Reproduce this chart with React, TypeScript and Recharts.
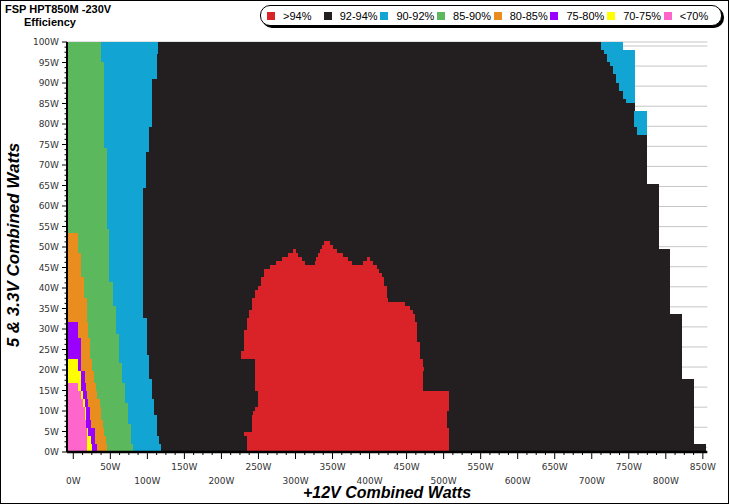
import React from 'react';
import { BarChart, Bar, Cell, LineChart, XAxis, YAxis, CartesianGrid } from 'recharts';

type Step = [number, number | null];

// +12V range covered by the map (W); the grid starts a little left of 0W
const LEFT_EDGE = -8.5;
const X_MAX = 856;
const Y_DOMAIN: [number, number] = [-1.17, 101];

// right edge (W on +12V) of each efficiency band, as [from row (5V&3.3V W), value]
const PINK_END: Step[] = [[0, 18.1], [6, 16.7], [8, 15.4], [11, 13.5], [13, 9.9], [15, 6.3], [17, null]];
const YELLOW_END: Step[] = [[0, 24.8], [2, 23.5], [4, 19.9], [6, 17.6], [11, 15.4], [13, 13.1], [15, 10.8], [17, 9.9], [20, 6.3], [23, null]];
const PURPLE_END: Step[] = [[0, 32.5], [2, 28.9], [6, 23.5], [8, 22.5], [11, 19.9], [13, 19], [15, 16.7], [17, 15.4], [20, 10.8], [23, 9.9], [28, 6.3], [32, null]];
const ORANGE_END: Step[] = [[0, 45.1], [2, 43.7], [4, 41], [6, 40.1], [8, 37.9], [11, 35.6], [13, 32.5], [15, 31.1], [17, 28], [20, 25.7], [23, 22.5], [28, 19.9], [32, 18.1], [38, 14.4], [43, 9.9], [49, 6.3], [54, null]];
const GREEN_END: Step[] = [[0, 81], [2, 77.9], [7, 74.3], [12, 69.8], [17, 65.3], [22, 61.7], [29, 57.7], [36, 53.5], [42, 48.6], [55, 45], [75, 41.5], [96, 37]];
const BLUE_END: Step[] = [[0, 118.4], [2, 116.2], [4, 112.6], [9, 109], [13, 105.8], [18, 102.7], [24, 99.1], [33, 94.5], [65, 98.2], [74, 102], [80, 106.3], [92, 112.6], [98, 114]];

// >94% zone, main body
const RED_START: Step[] = [[0, 234], [4, 230.5], [5, 241], [9, 242], [10, 245], [11, 250], [15, 245.3], [23, 226.4], [25, 230.5], [30, 234], [33, 237.7], [35, 240.9], [38, 245.3], [40, 249], [41, 253], [43, 257.5], [45, 265.6], [46, null]];
const RED_END: Step[] = [[0, 507.7], [6, 504.2], [10, 507.7], [15, 471.8], [20, 474], [21, 471.8], [23, 468.1], [27, 464.5], [32, 461.4], [34, 458.3], [35, 454.6], [36, 447.9], [37, 425.3], [38, 423.2], [41, 419.5], [43, 416.4], [44, 413], [45, 409.6], [46, null]];
// the three peaks on top of it
const RED_PEAKS: [number, [number, number][]][] = [
  [46, [[273.7, 312.9], [326.4, 375.9], [391.6, 405.1]]],
  [47, [[281.4, 308.4], [328, 371.3], [396, 401]]],
  [48, [[290.3, 303.8], [330.8, 364.6]]],
  [49, [[297, 301], [333, 355.6]]],
  [50, [[335.4, 351.1]]],
  [51, [[338.9, 346.6]]],
];

// end of the measured area, and the 90-92% strip at the top right
const BLACK_END: Step[] = [[0, 854], [2, 838], [18, 821.5], [34, 805.7], [50, 790.4], [66, 774.2], [78, 761.5], [80, 757], [84, 758.4], [86, 745.9], [87, 741.8], [89, 737.3], [91, 732.8], [93, 729.2], [95, 724.7], [96, 720.2], [98, 716.6], [99, 712.5]];
const RIGHT_BLUE_END: Step[] = [[0, null], [78, 774.2], [84, null], [86, 758.4], [99, 742]];

const Y_LABELS = [0, 5, 10, 15, 20, 25, 30, 35, 40, 45, 50, 55, 60, 65, 70, 75, 80, 85, 90, 95, 100];
const X_LABELS_UPPER = [50, 150, 250, 350, 450, 550, 650, 750, 850];
const X_LABELS_LOWER = [0, 100, 200, 300, 400, 500, 600, 700, 800];
const Y_TICKS = Array.from({ length: 81 }, (_, i) => i * 1.25);
const X_TICKS = Array.from({ length: 69 }, (_, i) => i * 12.5);
const ROWS = Array.from({ length: 101 }, (_, i) => 100 - i);

const C = {
  red: '#da2229', black: '#231f20', blue: '#12a5d3', green: '#5cb85c',
  orange: '#e98d1e', purple: '#9900ff', yellow: '#ffff00', pink: '#ff66cc',
};
const LEGEND = [
  { name: '>94%', color: C.red }, { name: '92-94%', color: C.black },
  { name: '90-92%', color: C.blue }, { name: '85-90%', color: C.green },
  { name: '80-85%', color: C.orange }, { name: '75-80%', color: C.purple },
  { name: '70-75%', color: C.yellow }, { name: '<70%', color: C.pink },
];

const at = (steps: Step[], r: number) => {
  let v: number | null = null;
  for (const [from, val] of steps) if (from <= r) v = val;
  return v;
};

function segmentsFor(r: number) {
  const segs = [{ w: LEFT_EDGE, c: 'none' }];
  let cur = LEFT_EDGE;
  const push = (end: number | null, c: string) => {
    if (end == null || end <= cur) return;
    segs.push({ w: end - cur, c });
    cur = end;
  };
  push(at(PINK_END, r), C.pink);
  push(at(YELLOW_END, r), C.yellow);
  push(at(PURPLE_END, r), C.purple);
  push(at(ORANGE_END, r), C.orange);
  push(at(GREEN_END, r), C.green);
  push(at(BLUE_END, r), C.blue);
  const peaks = RED_PEAKS.find(p => p[0] === r);
  const reds = r <= 45 ? [[at(RED_START, r)!, at(RED_END, r)!]] : peaks ? peaks[1] : [];
  for (const [s, e] of reds) { push(s, C.black); push(e, C.red); }
  push(at(BLACK_END, r), C.black);
  push(at(RIGHT_BLUE_END, r), C.blue);
  return segs;
}

const rowSegs = ROWS.map(segmentsFor);
const N = Math.max(...rowSegs.map(s => s.length));
const data = ROWS.map((row, j) => {
  const o: any = { row };
  for (let i = 0; i < N; i++) {
    const s = rowSegs[j][i];
    o['s' + i] = s ? s.w : 0;
    o['c' + i] = s ? s.c : 'none';
  }
  return o;
});

const tickFont = { fontFamily: 'DejaVu Sans, Verdana, sans-serif', fontSize: 9, fill: '#333' };
const MARGIN = { top: 42, right: 21.7, bottom: 0, left: 27 };
const PLOT_H = 504 - 42 - 52;
// just under the band height, so rows butt together without the recharts rounding gap
const ROW_SIZE = PLOT_H / ROWS.length - 0.0005;

const XTick = ({ x, y, payload }: any) => {
  const v = payload.value;
  const up = X_LABELS_UPPER.includes(v);
  const low = X_LABELS_LOWER.includes(v);
  return (
    <g>
      <line x1={x} x2={x} y1={y} y2={y + (up || low ? 7 : 3)} stroke="#000" />
      {(up || low) && (
        <text x={x} y={y + (up ? 17.5 : 31.5)} textAnchor="middle" {...tickFont}>{v}W</text>
      )}
    </g>
  );
};

const YTick = ({ x, y, payload }: any) => {
  const v = payload.value;
  const major = Y_LABELS.includes(v);
  return (
    <g>
      <line x1={x - (major ? 5 : 2.5)} x2={x} y1={y} y2={y} stroke="#000" />
      {major && (
        <text x={x - 8} y={y + 3.2} textAnchor="end" {...tickFont}>{v}W</text>
      )}
    </g>
  );
};

export default function App() {
  return (
    <div style={{ position: 'relative', width: 729, height: 504, background: '#fff', overflow: 'hidden' }}>
      <style>{`body{margin:0} .recharts-bar-rectangle path{shape-rendering:crispEdges}`}</style>

      {/* gridlines, kept behind the map */}
      <div style={{ position: 'absolute', left: 0, top: 0 }}>
        <LineChart width={729} height={504} data={data} margin={{ top: 42, right: 21.7, bottom: 52, left: 67 }}>
          <CartesianGrid vertical={false} stroke="#c6c6c6" />
          <XAxis type="number" dataKey="row" domain={[LEFT_EDGE, X_MAX]} allowDataOverflow hide />
          <YAxis type="number" domain={Y_DOMAIN} ticks={Y_LABELS} interval={0} allowDataOverflow hide />
        </LineChart>
      </div>

      <div style={{ position: 'absolute', left: 0, top: 0 }}>
        <BarChart
          width={729}
          height={504}
          data={data}
          layout="vertical"
          stackOffset="none"
          barCategoryGap={0}
          barGap={0}
          margin={MARGIN}
        >
          <XAxis
            type="number"
            domain={[LEFT_EDGE, X_MAX]}
            allowDataOverflow
            ticks={X_TICKS}
            interval={0}
            tick={(p: any) => <XTick {...p} />}
            tickLine={false}
            tickSize={0}
            tickMargin={0}
            height={52}
            axisLine={{ stroke: '#000', strokeWidth: 2.5 }}
          />
          <YAxis yAxisId="rows" type="category" dataKey="row" hide />
          <YAxis
            yAxisId={0}
            type="number"
            domain={Y_DOMAIN}
            reversed
            allowDataOverflow
            ticks={Y_TICKS}
            interval={0}
            tick={(p: any) => <YTick {...p} />}
            tickLine={false}
            tickSize={0}
            tickMargin={0}
            width={40}
            axisLine={{ stroke: '#000', strokeWidth: 2 }}
          />
          {Array.from({ length: N }, (_, i) => (
            <Bar key={i} dataKey={'s' + i} stackId="map" yAxisId="rows" barSize={ROW_SIZE} isAnimationActive={false}>
              {data.map((d, j) => <Cell key={j} fill={d['c' + i]} />)}
            </Bar>
          ))}
        </BarChart>
      </div>

      <div style={{ position: 'absolute', left: 5, top: 3, font: 'bold 11px "Liberation Sans", Arial, sans-serif', color: '#000' }}>
        FSP HPT850M -230V
      </div>
      <div style={{ position: 'absolute', left: 24, top: 16, font: 'bold 11px "Liberation Sans", Arial, sans-serif', color: '#000' }}>
        Efficiency
      </div>

      <div style={{
        position: 'absolute', left: 260, top: 5, width: 462, height: 21, boxSizing: 'border-box',
        border: '1px solid #000', borderRadius: 10, boxShadow: '2px 2px 0 #000', background: '#fff',
        display: 'flex', alignItems: 'center', paddingLeft: 6,
        font: '11px "Liberation Sans", Arial, sans-serif', color: '#000',
      }}>
        {LEGEND.map(l => (
          <div key={l.name} style={{ width: 56.7, display: 'flex', alignItems: 'center', flex: 'none' }}>
            <span style={{ width: 8, height: 8, background: l.color, marginRight: 8, flex: 'none' }} />
            <span>{l.name}</span>
          </div>
        ))}
      </div>

      <div style={{
        position: 'absolute', left: 387, top: 493, transform: 'translate(-50%, -50%)', whiteSpace: 'nowrap',
        font: 'italic bold 16px "Liberation Sans", Arial, sans-serif', color: '#000',
      }}>
        +12V Combined Watts
      </div>
      <div style={{
        position: 'absolute', left: 14, top: 245, transform: 'translate(-50%, -50%) rotate(-90deg)', whiteSpace: 'nowrap',
        font: 'italic bold 17px "Liberation Sans", Arial, sans-serif', color: '#000',
      }}>
        5 &amp; 3.3V Combined Watts
      </div>
      <div style={{ position: 'absolute', inset: 0, border: '1px solid #000', pointerEvents: 'none' }} />
    </div>
  );
}
